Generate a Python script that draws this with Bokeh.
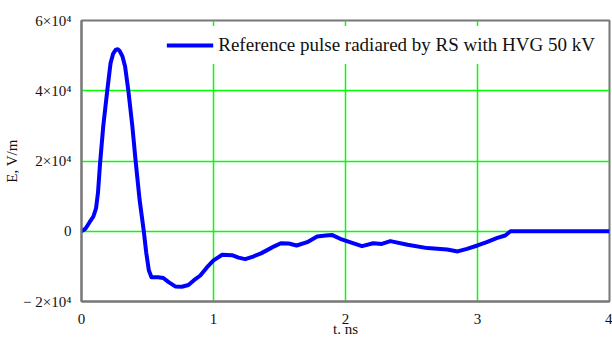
from bokeh.plotting import figure
from bokeh.models import FixedTicker, Range1d, Legend, LegendItem
from bokeh.embed import file_html
from bokeh.resources import INLINE

t_ns = [0, 0.03, 0.06, 0.09, 0.11, 0.125, 0.14, 0.165, 0.195, 0.22, 0.24, 0.26, 0.275, 0.29,
        0.31, 0.33, 0.355, 0.385, 0.41, 0.44, 0.472, 0.49, 0.51, 0.53, 0.58, 0.62, 0.66, 0.71,
        0.76, 0.81, 0.85, 0.9, 0.95, 1.0, 1.066, 1.14, 1.19, 1.24, 1.3, 1.36, 1.41, 1.46, 1.51,
        1.57, 1.63, 1.71, 1.785, 1.85, 1.9, 1.96, 2.05, 2.125, 2.21, 2.275, 2.34, 2.47, 2.62,
        2.77, 2.85, 2.92, 3.0, 3.07, 3.15, 3.21, 3.25, 4.0]
E_vm = [0, 700, 2500, 4200, 6500, 11000, 19000, 30000, 40000, 47800, 50600, 51700, 51800, 51300,
        49800, 47000, 40000, 30000, 20000, 9000, 0, -6000, -11100, -13100, -13100, -13300,
        -14500, -15700, -15800, -15300, -14000, -12600, -10300, -8300, -6700, -6800, -7500,
        -7950, -7200, -6300, -5300, -4300, -3400, -3500, -4050, -3100, -1500, -1200, -1100,
        -2150, -3300, -4250, -3400, -3600, -2800, -3850, -4800, -5200, -5750, -5000, -4050,
        -3100, -1870, -1200, 0, 0]

x_ticks = [0, 1, 2, 3, 4]
y_ticks = [-20000, 0, 20000, 40000, 60000]
y_tick_labels = {-20000: "\u2212 2\u00d710\u2074", 0: "0", 20000: "2\u00d710\u2074",
                 40000: "4\u00d710\u2074", 60000: "6\u00d710\u2074"}
series_label = "Reference pulse radiared by RS with HVG 50 kV"
x_title = "t. ns"
y_title = "E, V/m"

FONT = "Liberation Serif"

p = figure(width=612, height=339, output_backend="svg", toolbar_location=None,
           x_range=Range1d(0, 4), y_range=Range1d(-20000, 60000),
           min_border_left=81, min_border_right=3, min_border_top=20, min_border_bottom=38)
p.background_fill_color = "white"
p.border_fill_color = "white"
p.outline_line_color = "#777777"
p.outline_line_width = 2

r = p.line(t_ns, E_vm, line_color="#0000FF", line_width=4, line_join="round")

p.xaxis.ticker = FixedTicker(ticks=x_ticks)
p.yaxis.ticker = FixedTicker(ticks=y_ticks)
p.yaxis.major_label_overrides = y_tick_labels
for ax in (p.xaxis[0], p.yaxis[0]):
    ax.axis_line_color = "#777777"
    ax.axis_line_width = 2
    ax.major_tick_line_color = None
    ax.minor_tick_line_color = None
    ax.major_label_text_font = FONT
    ax.major_label_text_font_size = "15px"
    ax.major_label_text_color = "#111111"
    ax.axis_label_text_font = FONT
    ax.axis_label_text_font_size = "15px"
    ax.axis_label_text_font_style = "normal"
    ax.axis_label_text_color = "#111111"
p.xaxis.axis_label = x_title
p.yaxis.axis_label = y_title
p.xaxis.major_label_standoff = 6
p.xaxis.axis_label_standoff = -6
p.yaxis.major_label_standoff = 4
p.yaxis.axis_label_standoff = 0

p.xgrid.grid_line_color = "#00FF00"
p.ygrid.grid_line_color = "#00FF00"
p.xgrid.grid_line_width = 1.5
p.ygrid.grid_line_width = 1.5
p.xgrid.ticker = FixedTicker(ticks=[1, 2, 3])
p.ygrid.ticker = FixedTicker(ticks=[0, 20000, 40000])

legend = Legend(items=[LegendItem(label=series_label, renderers=[r])], location="top_right")
legend.label_text_font = FONT
legend.label_text_font_size = "19px"
legend.label_text_color = "#111111"
legend.glyph_width = 47
legend.glyph_height = 20
legend.label_standoff = 5
legend.padding = 8
legend.margin = 6
legend.border_line_alpha = 0
legend.background_fill_color = "white"
legend.background_fill_alpha = 1
p.add_layout(legend)

open("out.html", "w").write(file_html(p, INLINE))
